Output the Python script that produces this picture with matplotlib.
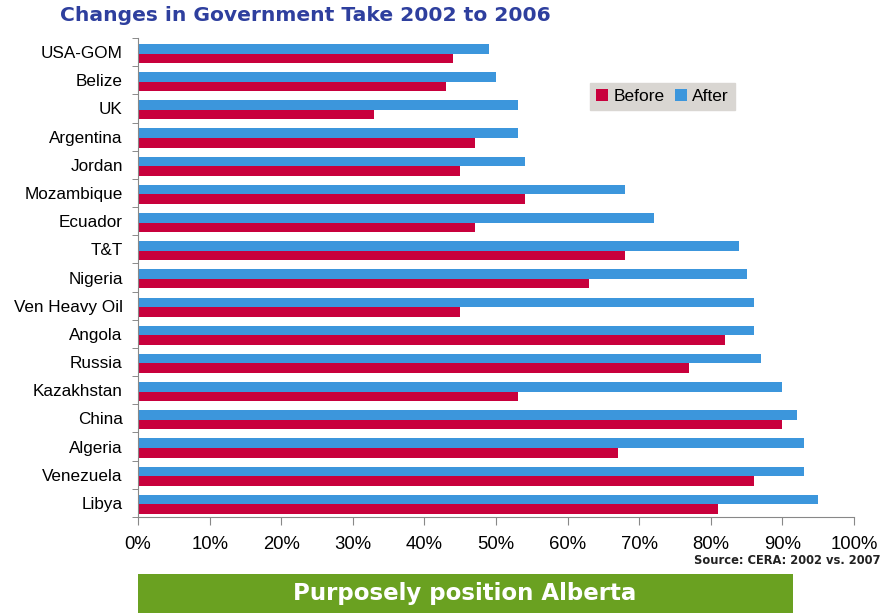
import matplotlib.pyplot as plt
import numpy as np
from matplotlib.patches import Rectangle

# Daten
countries = ['USA-GOM', 'Belize', 'UK', 'Argentina', 'Jordan', 'Mozambique', 'Ecuador',
             'T&T', 'Nigeria', 'Ven Heavy Oil', 'Angola', 'Russia', 'Kazakhstan',
             'China', 'Algeria', 'Venezuela', 'Libya']
before = [44, 43, 33, 47, 45, 54, 47, 68, 63, 45, 82, 77, 53, 90, 67, 86, 81]
after = [49, 50, 53, 53, 54, 68, 72, 84, 85, 86, 86, 87, 90, 92, 93, 93, 95]
xticks = [0, 10, 20, 30, 40, 50, 60, 70, 80, 90, 100]

red = '#C8003C'
blue = '#3C96DC'

fig = plt.figure(figsize=(8.82, 6.13), dpi=100)
ax = fig.add_axes([0.1565, 0.1566, 0.8118, 0.7814])

y = np.arange(len(countries))
h = 0.34
ax.barh(y - h / 2 + 0.05, after, height=h, color=blue, label='After')
ax.barh(y + h / 2 + 0.05, before, height=h, color=red, label='Before')

ax.set_ylim(len(countries) - 0.5, -0.5)
ax.set_xlim(0, 100)
ax.set_yticks(y)
ax.set_yticklabels(countries, fontsize=12.3, family='Liberation Sans')
ax.set_yticks(np.arange(-0.5, len(countries), 1), minor=True)
ax.tick_params(axis='y', which='major', length=0, pad=11)
ax.tick_params(axis='y', which='minor', length=4, color='#777777', direction='out')
ax.set_xticks(xticks)
ax.set_xticklabels([f'{t}%' for t in xticks], fontsize=13.3, family='Liberation Sans')
ax.tick_params(axis='x', length=6, color='#888888', pad=8)

for s in ['top', 'right']:
    ax.spines[s].set_visible(False)
for s in ['left', 'bottom']:
    ax.spines[s].set_color('#888888')

# Legende (Before zuerst)
handles, labels = ax.get_legend_handles_labels()
leg = ax.legend(handles[::-1], labels[::-1], loc='upper left', bbox_to_anchor=(0.619, 0.925),
                ncol=2, frameon=True, fancybox=False, handlelength=0.7, handleheight=0.7,
                handletextpad=0.3, columnspacing=0.6, borderpad=0.35,
                prop={'family': 'Liberation Sans', 'size': 12.5})
leg.get_frame().set_facecolor('#D9D6D2')
leg.get_frame().set_edgecolor('#D9D6D2')
leg.get_frame().set_alpha(1)

fig.text(0.0685, 0.975, 'Changes in Government Take 2002 to 2006', fontsize=14.6,
         fontweight='bold', color='#2E3F9E', ha='left', va='center')
fig.text(0.998, 0.085, 'Source: CERA: 2002 vs. 2007', fontsize=8.3, fontweight='bold',
         ha='right', va='center', color='#222222')

fig.patches.append(Rectangle((0.1565, 0.0), 0.7425, 0.064, transform=fig.transFigure,
                             facecolor='#6AA121', edgecolor='none'))
fig.text(0.527, 0.031, 'Purposely position Alberta', fontsize=16.5, fontweight='bold',
         color='white', ha='center', va='center')

plt.savefig('out.png', dpi=100)
